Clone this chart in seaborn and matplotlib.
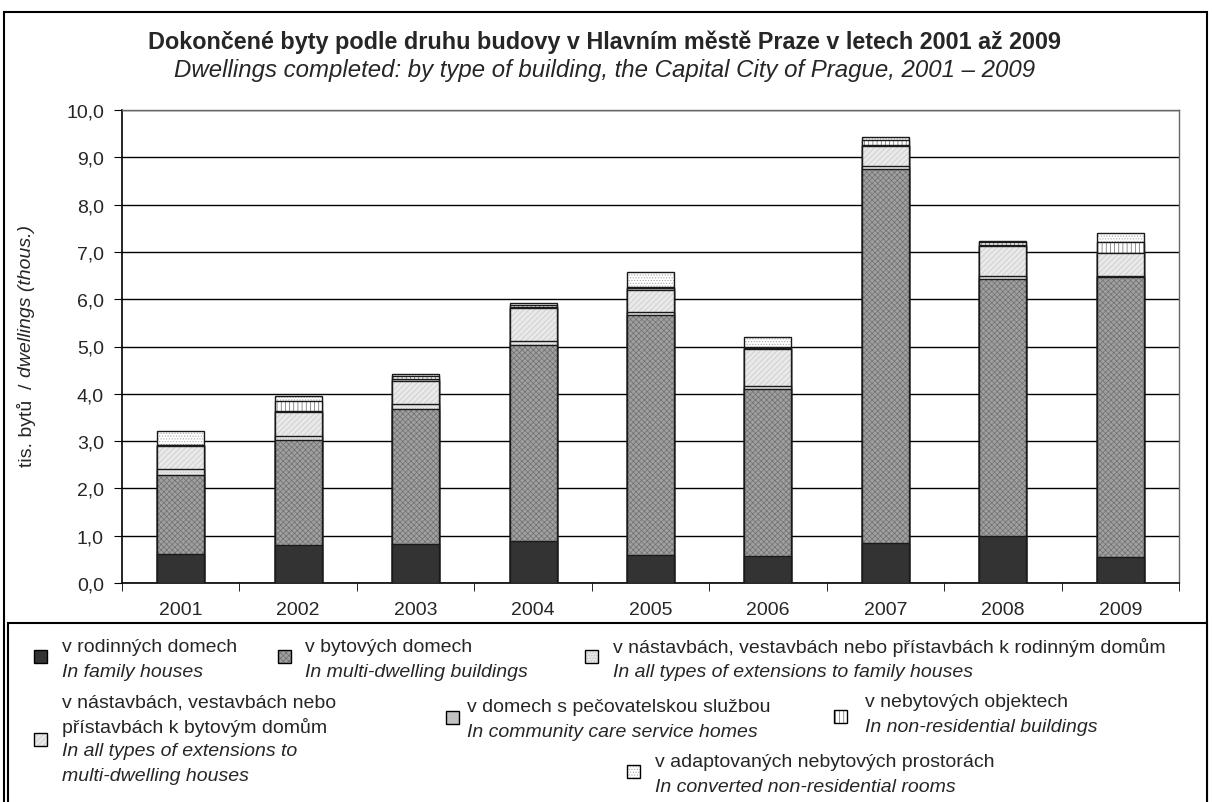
import numpy as np
import pandas as pd
import matplotlib
matplotlib.use('Agg')
import matplotlib.pyplot as plt
from matplotlib.colors import to_rgba
from matplotlib.patches import Rectangle
import seaborn as sns

# values in thousands of dwellings
years = ['2001', '2002', '2003', '2004', '2005', '2006', '2007', '2008', '2009']
family = [0.61, 0.80, 0.82, 0.88, 0.59, 0.57, 0.85, 1.00, 0.55]
multi = [1.68, 2.22, 2.86, 4.15, 5.07, 3.53, 7.90, 5.43, 5.92]
ext_family = [0.13, 0.08, 0.10, 0.09, 0.07, 0.06, 0.07, 0.05, 0.03]
ext_multi = [0.47, 0.51, 0.50, 0.69, 0.46, 0.79, 0.41, 0.64, 0.47]
care = [0.02, 0.02, 0.03, 0.03, 0.04, 0.02, 0.04, 0.03, 0.01]
nonres = [0.00, 0.21, 0.06, 0.03, 0.03, 0.03, 0.09, 0.05, 0.23]
converted = [0.30, 0.11, 0.04, 0.05, 0.31, 0.20, 0.06, 0.03, 0.19]

labels_cz = ['v rodinných domech', 'v bytových domech',
             'v nástavbách, vestavbách nebo přístavbách k rodinným domům',
             'v nástavbách, vestavbách nebo\npřístavbách k bytovým domům',
             'v domech s pečovatelskou službou', 'v nebytových objektech',
             'v adaptovaných nebytových prostorách']
labels_en = ['In family houses', 'In multi-dwelling buildings',
             'In all types of extensions to family houses',
             'In all types of extensions to\nmulti-dwelling houses',
             'In community care service homes', 'In non-residential buildings',
             'In converted non-residential rooms']

face = ['#333333', '#a0a0a0', '#e6e6e6', '#e9e9e9', '#c2c2c2', '#ffffff', '#ffffff']
hatches = [None, 'xxxxxx', '......', '//////', None, '||||', '......']
hatch_col = ['#333333', '#707070', '#c4c4c4', '#c8c8c8', '#c2c2c2', '#666666', '#aaaaaa']

sns.set_style('white')
plt.rcParams['font.family'] = ['Liberation Sans', 'DejaVu Sans']
plt.rcParams['hatch.linewidth'] = 0.5


def set_hatch_colour(patch, col):
    if hasattr(patch, 'set_hatchcolor'):
        patch.set_hatchcolor(col)
    else:
        patch._hatch_color = to_rgba(col)


W, H = 1212, 803
fig = plt.figure(figsize=(W / 100, H / 100), dpi=100)
ax = fig.add_axes([122 / W, 1 - 584 / H, (1179 - 122) / W, (584 - 111) / H])

# stacked bars: draw cumulative totals from the top layer down
cum = np.cumsum(np.array([family, multi, ext_family, ext_multi, care, nonres, converted]), axis=0)
for i in reversed(range(len(cum))):
    n_before = len(ax.patches)
    df = pd.DataFrame({'rok': years, 'tis': cum[i]})
    sns.barplot(data=df, x='rok', y='tis', color=face[i], hatch=hatches[i],
                edgecolor='#1a1a1a', linewidth=1.0, width=0.4, saturation=1,
                ax=ax, zorder=3)
    for p in ax.patches[n_before:]:
        set_hatch_colour(p, hatch_col[i])

ax.set_xlim(-0.5, 8.5)
ax.set_ylim(0, 10)
yt = np.arange(0, 10.5, 1.0)
ax.set_yticks(yt)
ax.set_yticklabels([f'{v:.1f}'.replace('.', ',') for v in yt], fontsize=14)
ax.set_xticks(range(len(years)))
ax.set_xticklabels(years, fontsize=14)
ax.set_xticks(np.arange(-0.5, 9, 1), minor=True)
ax.tick_params(axis='x', which='major', length=0, pad=13)
ax.tick_params(axis='x', which='minor', bottom=True, length=6, direction='out', color='black')
ax.tick_params(axis='y', left=True, length=6, direction='out', color='black', pad=7)
ax.set_xlabel('')
ax.set_ylabel('')
ax.yaxis.grid(True, color='black', linewidth=1)
ax.set_axisbelow(True)
for s in ['left', 'bottom']:
    ax.spines[s].set_color('black')
    ax.spines[s].set_linewidth(1.2)
for s in ['top', 'right']:
    ax.spines[s].set_color('#666666')
    ax.spines[s].set_linewidth(1)

fig.text(605 / W, 1 - 42 / H, 'Dokončené byty podle druhu budovy v Hlavním městě Praze v letech 2001 až 2009',
         ha='center', va='center', fontsize=16.8, fontweight='bold')
fig.text(605 / W, 1 - 70 / H, 'Dwellings completed: by type of building, the Capital City of Prague, 2001 – 2009',
         ha='center', va='center', fontsize=17.3, style='italic')

renderer = fig.canvas.get_renderer()
t1 = fig.text(27 / W, 1 - 467 / H, 'tis. bytů  / ', rotation=90, ha='center', va='bottom', fontsize=14)
bb = t1.get_window_extent(renderer)
fig.text(27 / W, bb.y1 / H + 0.002, 'dwellings (thous.)', rotation=90, ha='center', va='bottom',
         fontsize=14, style='italic')

# outer frame and legend box
fig.patches.append(Rectangle((4 / W, -0.01), 1203 / W, (803 - 13) / H + 0.01, transform=fig.transFigure,
                             fill=False, edgecolor='black', linewidth=1.5))
fig.patches.append(Rectangle((8 / W, -0.01), 1199 / W, (803 - 624) / H + 0.01, transform=fig.transFigure,
                             facecolor='white', edgecolor='black', linewidth=1.5, zorder=1))

# legend items: marker centre, text x, first line y
leg_pos = [(40, 657, 62, 648), (284, 657, 305, 648), (591, 657, 613, 648),
           (40, 740, 62, 703), (452, 718, 467, 708), (840, 717, 865, 703),
           (633, 772, 655, 763)]
line_h = 24.5
for i, (mx, my, tx, ty) in enumerate(leg_pos):
    s = 13
    mk = Rectangle(((mx - s / 2) / W, 1 - (my + s / 2) / H), s / W, s / H,
                   transform=fig.transFigure, facecolor=face[i], hatch=hatches[i],
                   edgecolor='black', linewidth=1.0, zorder=2)
    set_hatch_colour(mk, hatch_col[i])
    fig.patches.append(mk)
    y = ty
    for ln in labels_cz[i].split('\n'):
        fig.text(tx / W, 1 - y / H, ln, ha='left', va='center', fontsize=14)
        y += line_h
    for ln in labels_en[i].split('\n'):
        fig.text(tx / W, 1 - y / H, ln, ha='left', va='center', fontsize=14, style='italic')
        y += line_h

fig.savefig('out.png', dpi=100)
